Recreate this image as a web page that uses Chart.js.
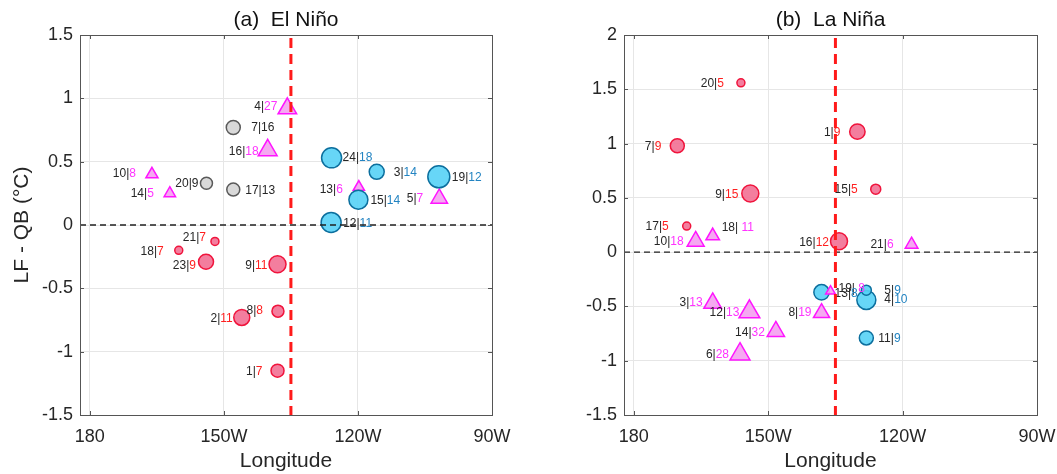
<!DOCTYPE html>
<html>
<head>
<meta charset="utf-8">
<script src="https://cdn.jsdelivr.net/npm/chart.js@4"></script>
<style>
  html, body { margin: 0; padding: 0; background: #fff; overflow: hidden; }
  .panel { position: absolute; top: 0; height: 474px; }
  #left { left: 0; width: 520px; }
  #right { left: 530px; width: 527px; }
</style>
</head>
<body>
<div class="panel" id="left"><canvas id="elNino"></canvas></div>
<div class="panel" id="right"><canvas id="laNina"></canvas></div>
<script>
// longitude as degrees east: 180 = dateline, 210 = 150W, 240 = 120W, 270 = 90W
const xTicks = [180, 210, 240, 270];
const xTickLabels = ['180', '150W', '120W', '90W'];
const splitLon = 225; // 135W
const elYTicks = [-1.5, -1, -0.5, 0, 0.5, 1, 1.5];
const lnYTicks = [-1.5, -1, -0.5, 0, 0.5, 1, 1.5, 2];

// --- (a) El Nino ---
const elRedTags = ['21|7', '18|7', '23|9', '9|11', '8|8', '2|11', '1|7'];
const elRedLon  = [208.0, 199.9, 206.0, 222.0, 222.1, 214.0, 222.0];
const elRedVal  = [-0.13, -0.20, -0.29, -0.31, -0.68, -0.73, -1.15];

const elBlueTags = ['24|18', '3|14', '19|12', '15|14', '12|11'];
const elBlueLon  = [234.1, 244.2, 258.1, 240.1, 234.0];
const elBlueVal  = [0.53, 0.42, 0.38, 0.20, 0.02];

const elGrayTags = ['7|16', '20|9', '17|13'];
const elGrayLon  = [212.1, 206.1, 212.1];
const elGrayVal  = [0.77, 0.33, 0.28];

const elTriTags = ['4|27', '16|18', '10|8', '14|5', '13|6', '5|7'];
const elTriLon  = [224.2, 219.8, 193.9, 197.9, 240.2, 258.2];
const elTriVal  = [0.92, 0.59, 0.40, 0.25, 0.30, 0.21];

// --- (b) La Nina ---
const lnRedTags = ['20|5', '7|9', '9|15', '17|5', '1|9', '15|5', '16|12'];
const lnRedLon  = [203.9, 189.7, 206.0, 191.8, 229.9, 234.0, 225.8];
const lnRedVal  = [1.56, 0.98, 0.54, 0.24, 1.11, 0.58, 0.10];

const lnBlueTags = ['13|8', '4|10', '5|9', '11|9'];
const lnBlueLon  = [221.9, 231.9, 231.9, 231.9];
const lnBlueVal  = [-0.37, -0.44, -0.35, -0.79];

const lnTriTags = ['18| 11', '10|18', '21|6', '19| 8', '8|19', '3|13', '12|13', '14|32', '6|28'];
const lnTriLon  = [197.6, 193.8, 242.0, 223.9, 221.9, 197.6, 205.8, 211.7, 203.7];
const lnTriVal  = [0.15, 0.10, 0.07, -0.36, -0.56, -0.47, -0.55, -0.73, -0.94];

// marker sizes and label placement (style only)
const elRedSize = [4, 4, 7.5, 8.5, 6, 8, 6.5];
const elRedPos  = [[-9, -4], [-15, 1], [-10, 4], [-10, 1], [-15, 0], [-9, 1], [-15, 1]];
const elBlueSize = [10, 7.5, 11, 9.5, 10];
const elBluePos  = [[11, 0], [17, 1], [13, 1], [12, 1], [12, 1]];
const elGraySize = [7, 6, 6.5];
const elGrayPos  = [[18, 0], [-8, 0], [12, 1]];
const elTriSize = [10.7, 10.9, 7, 6.6, 6.5, 9.5];
const elTriPos  = [[-10, -2], [-9, 1], [-16, -1], [-16, 0], [-16, 3], [-16, 0]];

const lnRedSize = [4, 7, 8.5, 4, 7.7, 5, 8.5];
const lnRedPos  = [[-17, 1], [-16, 1], [-12, 1], [-18, 1], [-17, 1], [-18, 1], [-10, 1]];
const lnBlueSize = [7.7, 9.5, 5, 7];
const lnBluePos  = [[13, 1], [18, 0], [18, 1], [12, 1]];
const lnTriSize = [7.8, 9.8, 7.3, 5.6, 9.3, 10.2, 12, 10, 11.5];
const lnTriPos  = [[9, -8], [-12, 0], [-18, 0], [8, -3], [-10, 0], [-10, 0], [-10, 1], [-11, 1], [-11, 0]];

const FONT = '"Liberation Sans", Arial, Helvetica, sans-serif';
const INK = '#262626';

const styles = {
    red:  { bg: 'rgba(242,112,148,0.9)', border: '#f0143c', tag: '#ff1f1f', shape: 'circle' },
    blue: { bg: 'rgba(86,210,246,0.9)', border: '#0c6f9e', tag: '#2384c2', shape: 'circle' },
    gray: { bg: '#d9d9d9', border: '#5a5a5a', tag: INK, shape: 'circle' },
    tri:  { bg: 'rgba(244,160,240,0.9)', border: '#ff14ff', tag: '#ff33ff', shape: 'triangle' }
};

function group(kind, lon, val, tags, size, pos) {
    const s = styles[kind];
    return {
        data: lon.map((x, i) => ({ x: x, y: val[i] })),
        pointStyle: s.shape,
        pointRadius: size,
        backgroundColor: s.bg,
        borderColor: s.border,
        borderWidth: 1.5,
        tags: tags,
        tagPos: pos,
        tagColor: s.tag
    };
}

// labels, dashed reference lines, box, inward ticks and title
const decor = {
    id: 'decor',
    afterDatasetsDraw(chart, args, opts) {
        const ctx = chart.ctx;
        const a = chart.chartArea;
        const xs = chart.scales.x, ys = chart.scales.y;

        ctx.save();
        ctx.font = '12px ' + FONT;
        ctx.textBaseline = 'middle';
        ctx.textAlign = 'left';
        chart.data.datasets.forEach((ds, di) => {
            chart.getDatasetMeta(di).data.forEach((pt, i) => {
                const parts = ds.tags[i].split('|');
                const head = parts[0] + '|';
                const w1 = ctx.measureText(head).width;
                const w2 = ctx.measureText(parts[1]).width;
                const dx = ds.tagPos[i][0], dy = ds.tagPos[i][1];
                const x0 = dx >= 0 ? pt.x + dx : pt.x + dx - w1 - w2;
                ctx.fillStyle = INK;
                ctx.fillText(head, x0, pt.y + dy);
                ctx.fillStyle = ds.tagColor;
                ctx.fillText(parts[1], x0 + w1, pt.y + dy);
            });
        });

        // zero line
        const y0 = ys.getPixelForValue(0);
        ctx.strokeStyle = '#222';
        ctx.lineWidth = 1.3;
        ctx.setLineDash([6, 4]);
        ctx.beginPath();
        ctx.moveTo(a.left, y0);
        ctx.lineTo(a.right, y0);
        ctx.stroke();

        // 135W split
        const xs0 = xs.getPixelForValue(splitLon);
        ctx.strokeStyle = '#ff1a1a';
        ctx.lineWidth = 3;
        ctx.setLineDash([10, 6]);
        ctx.beginPath();
        ctx.moveTo(xs0, a.top + 3);
        ctx.lineTo(xs0, a.bottom);
        ctx.stroke();

        // box
        ctx.setLineDash([]);
        ctx.strokeStyle = '#555';
        ctx.lineWidth = 1;
        ctx.strokeRect(a.left + 0.5, a.top + 0.5, a.right - a.left, a.bottom - a.top);

        // inward ticks
        ctx.beginPath();
        xTicks.forEach(v => {
            const px = Math.round(xs.getPixelForValue(v)) + 0.5;
            ctx.moveTo(px, a.bottom); ctx.lineTo(px, a.bottom - 4);
            ctx.moveTo(px, a.top); ctx.lineTo(px, a.top + 4);
        });
        ys.ticks.forEach(t => {
            const py = Math.round(ys.getPixelForValue(t.value)) + 0.5;
            ctx.moveTo(a.left, py); ctx.lineTo(a.left + 4, py);
            ctx.moveTo(a.right, py); ctx.lineTo(a.right - 4, py);
        });
        ctx.stroke();

        // panel title
        ctx.fillStyle = '#111';
        ctx.font = '21px ' + FONT;
        ctx.textAlign = 'center';
        ctx.fillText(opts.title, (a.left + a.right) / 2, 20);
        ctx.restore();
    }
};

function makePanel(canvasId, datasets, yTicks, title, yTitle, yWidth, padRight) {
    const tickFont = { family: FONT, size: 18 };
    return new Chart(document.getElementById(canvasId), {
        type: 'scatter',
        data: { datasets: datasets },
        options: {
            responsive: true,
            maintainAspectRatio: false,
            animation: false,
            events: [],
            layout: { padding: { top: 35, left: 0, right: padRight, bottom: 0 } },
            plugins: {
                legend: { display: false },
                tooltip: { enabled: false },
                decor: { title: title }
            },
            scales: {
                x: {
                    type: 'linear',
                    min: 177.8,
                    max: 270,
                    afterBuildTicks: s => { s.ticks = xTicks.map(v => ({ value: v })); },
                    afterFit: s => { s.height = 59; s.paddingLeft = 0; s.paddingRight = 0; },
                    ticks: {
                        callback: v => xTickLabels[xTicks.indexOf(v)],
                        font: tickFont, color: INK, padding: 11,
                        maxRotation: 0, autoSkip: false
                    },
                    grid: { color: '#e6e6e6', drawTicks: false },
                    border: { display: false },
                    title: {
                        display: true, text: 'Longitude', color: INK,
                        font: { family: FONT, size: 21 }, padding: { top: 0, bottom: 0 }
                    }
                },
                y: {
                    min: yTicks[0],
                    max: yTicks[yTicks.length - 1],
                    afterBuildTicks: s => { s.ticks = yTicks.map(v => ({ value: v })); },
                    afterFit: s => { s.width = yWidth; s.paddingTop = 0; s.paddingBottom = 0; },
                    ticks: { callback: v => String(v), font: tickFont, color: INK, padding: 7 },
                    grid: { color: '#e6e6e6', drawTicks: false },
                    border: { display: false },
                    title: {
                        display: !!yTitle, text: yTitle, color: INK,
                        font: { family: FONT, size: 21 }, padding: { top: 10, bottom: 0 }
                    }
                }
            }
        },
        plugins: [decor]
    });
}

document.addEventListener('DOMContentLoaded', function() {
    // --- Panel (a): El Nino ---
    makePanel('elNino', [
        group('blue', elBlueLon, elBlueVal, elBlueTags, elBlueSize, elBluePos),
        group('red', elRedLon, elRedVal, elRedTags, elRedSize, elRedPos),
        group('gray', elGrayLon, elGrayVal, elGrayTags, elGraySize, elGrayPos),
        group('tri', elTriLon, elTriVal, elTriTags, elTriSize, elTriPos)
    ], elYTicks, '(a)  El Niño', 'LF - QB (°C)', 80, 28);

    // --- Panel (b): La Nina ---
    makePanel('laNina', [
        group('tri', lnTriLon, lnTriVal, lnTriTags, lnTriSize, lnTriPos),
        group('blue', lnBlueLon, lnBlueVal, lnBlueTags, lnBlueSize, lnBluePos),
        group('red', lnRedLon, lnRedVal, lnRedTags, lnRedSize, lnRedPos)
    ], lnYTicks, '(b)  La Niña', '', 94, 20);
});
</script>
</body>
</html>
